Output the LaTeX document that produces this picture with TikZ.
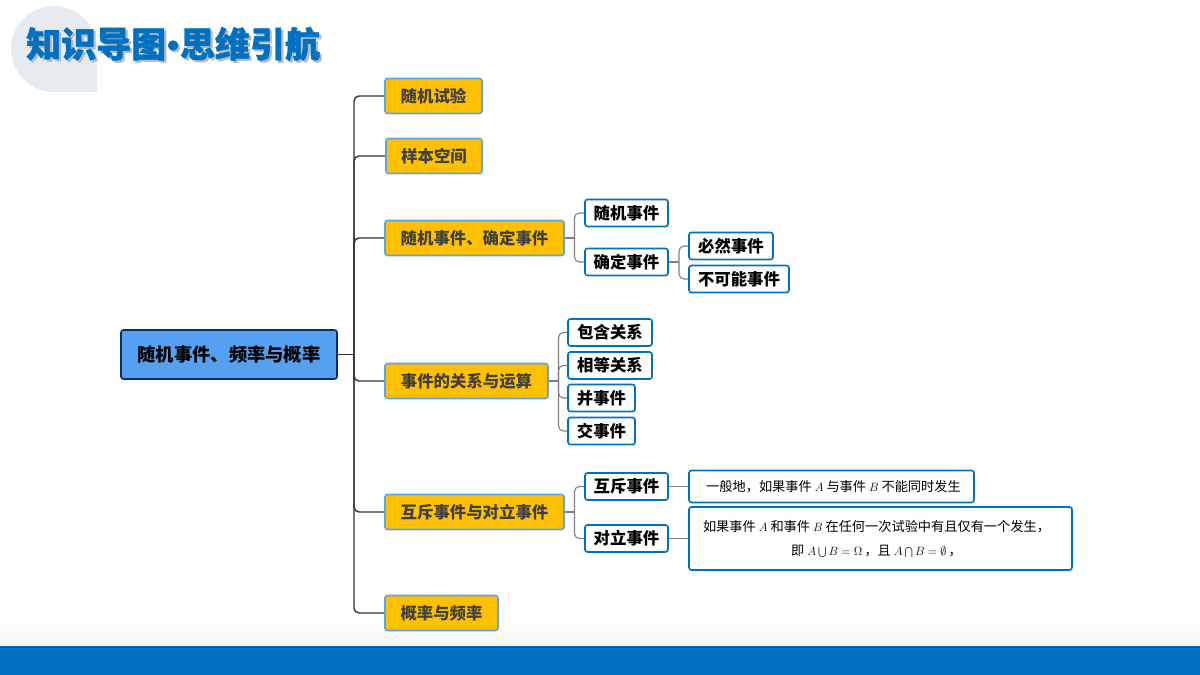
\documentclass[tikz,border=0pt]{standalone}
\usepackage{fontspec}
\setmainfont{Noto Sans CJK SC}
\newfontfamily\titlefont[BoldFeatures={FakeBold=1.2}]{Noto Sans CJK SC}
\newfontfamily\dotfont{Liberation Sans}
\usetikzlibrary{calc,shadings}
\definecolor{barblue}{HTML}{0070C0}
\definecolor{blobgrey}{HTML}{E6EBF0}
\definecolor{orangefill}{HTML}{FFC000}
\definecolor{orangeedge}{HTML}{5BA3EE}
\definecolor{rootfill}{HTML}{55A0F0}
\definecolor{rootedge}{HTML}{0B2E6B}
\definecolor{darkline}{HTML}{333333}
\definecolor{greyline}{HTML}{808080}
\definecolor{bandfade}{HTML}{F5F8F5}
\definecolor{titleshade}{HTML}{B4BAC2}
\newcommand{\titlewords}{知识导图\hspace{1pt}{\dotfont\bfseries\symbol{"2022}}\hspace{0.5pt}思维引航}
\tikzset{
  rootbox/.style={draw=rootedge,fill=rootfill,line width=1.6pt,rounded corners=2.5pt,inner sep=0pt,font=\bfseries\fontsize{18.3}{20}\selectfont,text=black},
  topicbox/.style={draw=orangeedge,fill=orangefill,line width=1.6pt,rounded corners=2.5pt,inner sep=0pt,minimum height=35pt,font=\bfseries\fontsize{16.4}{19}\selectfont,text=black!75},
  subbox/.style={draw=barblue,fill=white,line width=1.6pt,rounded corners=2.5pt,inner sep=0pt,minimum height=27pt,font=\bfseries\fontsize{16.4}{19}\selectfont,text=black},
  notebox/.style={draw=barblue,fill=white,line width=1.6pt,rounded corners=2.5pt,inner sep=0pt,text=black,align=center,font=\fontsize{13.2}{15}\selectfont},
  mainline/.style={draw=darkline,line width=1.4pt,rounded corners=5pt},
  subline/.style={draw=greyline,line width=1.1pt,rounded corners=5pt},
  titletext/.style={anchor=west,inner sep=0pt,font=\titlefont\bfseries\fontsize{35}{38}\selectfont},
}
\begin{document}
\begin{tikzpicture}[x=1pt,y=-1pt]
\useasboundingbox (0,0) rectangle (1200,675);
\fill[white] (0,0) rectangle (1200,675);
% bottom band
\shade[top color=white,bottom color=bandfade] (0,612) rectangle (1200,646);
\fill[barblue] (0,646) rectangle (1200,675);
\draw[barblue!75!black,line width=0.8pt] (0,647) -- (1200,647);
% title badge
\fill[blobgrey] (54,49) circle[radius=43];
\fill[blobgrey] (54,49) rectangle (97,92);
\node[titletext,text=barblue] (title) at (26,45) {\rlap{\kern2.2pt\raisebox{-2.2pt}{\textcolor{titleshade}{\titlewords}}}\titlewords};
% nodes
\node[rootbox,minimum width=216pt,minimum height=49pt] (root) at (229,354.5) {随机事件、频率与概率};
\node[topicbox,minimum width=97pt] (t1) at (433.5,96) {随机试验};
\node[topicbox,minimum width=96pt] (t2) at (434,156) {样本空间};
\node[topicbox,minimum width=179pt] (t3) at (474.5,238) {随机事件、确定事件};
\node[topicbox,minimum width=163pt] (t4) at (466.5,381) {事件的关系与运算};
\node[topicbox,minimum width=179pt] (t5) at (474.5,512) {互斥事件与对立事件};
\node[topicbox,minimum width=113pt] (t6) at (441.5,613) {概率与频率};
\node[subbox,minimum width=83pt] (a1) at (626.5,213) {随机事件};
\node[subbox,minimum width=83pt] (a2) at (626.5,262) {确定事件};
\node[subbox,minimum width=84pt] (a3) at (731,246) {必然事件};
\node[subbox,minimum width=100pt] (a4) at (739,279) {不可能事件};
\node[subbox,minimum width=84pt] (b1) at (610,332.5) {包含关系};
\node[subbox,minimum width=84pt] (b2) at (610,365.5) {相等关系};
\node[subbox,minimum width=67pt] (b3) at (601.5,398) {并事件};
\node[subbox,minimum width=67pt] (b4) at (601.5,431) {交事件};
\node[subbox,minimum width=83pt] (c1) at (626.5,486.5) {互斥事件};
\node[subbox,minimum width=83pt] (c2) at (626.5,538.5) {对立事件};
\node[notebox,minimum width=285pt,minimum height=32pt] (n1) at (831.5,486.5) {\hspace{4pt}一般地，如果事件 $A$ 与事件 $B$ 不能同时发生};
\node[notebox,minimum width=383pt,minimum height=63pt] (n2) at (880.5,538.5) {\hspace{-8pt}如果事件 $A$ 和事件 $B$ 在任何一次试验中有且仅有一个发生，\\[9pt]\hspace{-8pt}即 $A\,{\textstyle\bigcup}\,B=\Omega$\,，且 $A\,{\textstyle\bigcap}\,B=\emptyset$\,，};
% connectors
\coordinate (hub) at (354,354.5);
\coordinate (hubt3) at (574.5,238);
\coordinate (huba2) at (679,262);
\coordinate (hubt4) at (558.5,381);
\coordinate (hubt5) at (574.5,512);
\draw[mainline] (root.east) -- (hub);
\foreach \n in {t1,t2,t3,t4,t5,t6} {\draw[mainline] (hub) |- (\n.west);}
\draw[subline] (t3.east) -- (hubt3);
\foreach \n in {a1,a2} {\draw[subline] (hubt3) |- (\n.west);}
\draw[subline] (a2.east) -- (huba2);
\foreach \n in {a3,a4} {\draw[subline] (huba2) |- (\n.west);}
\draw[subline] (t4.east) -- (hubt4);
\foreach \n in {b1,b2,b3,b4} {\draw[subline] (hubt4) |- (\n.west);}
\draw[subline] (t5.east) -- (hubt5);
\foreach \n in {c1,c2} {\draw[subline] (hubt5) |- (\n.west);}
\draw[subline] (c1.east) -- (n1.west);
\draw[subline] (c2.east) -- (n2.west);
\end{tikzpicture}
\end{document}
